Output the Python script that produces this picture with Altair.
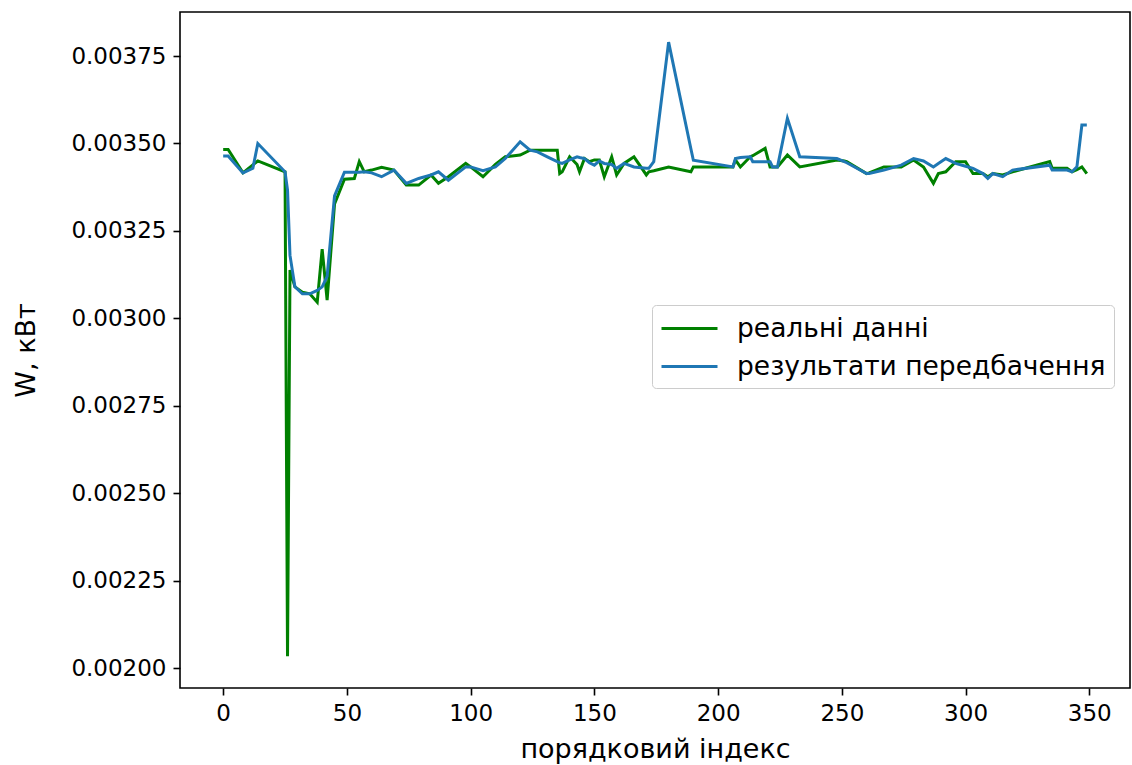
import altair as alt
import pandas as pd

# Sample index along the test set
index = [0, 2, 8, 12, 14, 25, 26, 27, 29, 32, 35, 38, 40, 42, 45, 49, 53, 55, 57, 60,
         64, 69, 74, 79, 84, 87, 91, 98, 100, 105, 110, 114, 120, 124, 127, 131, 135, 136,
         137, 140, 143, 144, 146, 148, 150, 152, 154, 157, 159, 162, 166, 171, 172, 174,
         180, 189, 190, 206, 207, 209, 213, 214, 219, 221, 222, 224, 228, 233, 248, 251,
         252, 260, 261, 267, 274, 279, 283, 287, 289, 292, 296, 300, 303, 307, 309, 311,
         315, 319, 334, 335, 341, 343, 345, 347, 349]

# Measured power, kW
real = [0.003483, 0.003483, 0.003416, 0.003439, 0.003450, 0.003419, 0.002034, 0.003138,
        0.003090, 0.003075, 0.003070, 0.003046, 0.003198, 0.003052, 0.003327, 0.003398,
        0.003400, 0.003448, 0.003419, 0.003424, 0.003432, 0.003424, 0.003381, 0.003381,
        0.003410, 0.003386, 0.003405, 0.003443, 0.003433, 0.003405, 0.003440, 0.003462,
        0.003467, 0.003481, 0.003481, 0.003481, 0.003481, 0.003414, 0.003419, 0.003462,
        0.003440, 0.003419, 0.003457, 0.003448, 0.003453, 0.003453, 0.003405, 0.003462,
        0.003410, 0.003443, 0.003462, 0.003410, 0.003419, 0.003422, 0.003433, 0.003419,
        0.003433, 0.003433, 0.003453, 0.003433, 0.003462, 0.003465, 0.003486, 0.003433,
        0.003433, 0.003433, 0.003467, 0.003433, 0.003453, 0.003450, 0.003448, 0.003414,
        0.003416, 0.003433, 0.003433, 0.003453, 0.003433, 0.003386, 0.003414, 0.003419,
        0.003448, 0.003448, 0.003414, 0.003414, 0.003405, 0.003414, 0.003410, 0.003419,
        0.003448, 0.003429, 0.003429, 0.003419, 0.003425, 0.003433, 0.003414]

# Model output, kW
pred = [0.003464, 0.003464, 0.003416, 0.003429, 0.003500, 0.003419, 0.003367, 0.003180,
        0.003090, 0.003070, 0.003070, 0.003080, 0.003090, 0.003120, 0.003350, 0.003418,
        0.003418, 0.003418, 0.003419, 0.003416, 0.003405, 0.003424, 0.003386, 0.003400,
        0.003410, 0.003419, 0.003395, 0.003433, 0.003433, 0.003422, 0.003433, 0.003457,
        0.003505, 0.003481, 0.003476, 0.003462, 0.003448, 0.003445, 0.003443, 0.003453,
        0.003462, 0.003460, 0.003457, 0.003445, 0.003438, 0.003450, 0.003443, 0.003440,
        0.003429, 0.003443, 0.003433, 0.003429, 0.003429, 0.003448, 0.003790, 0.003485,
        0.003452, 0.003433, 0.003457, 0.003460, 0.003462, 0.003448, 0.003448, 0.003448,
        0.003433, 0.003433, 0.003572, 0.003462, 0.003457, 0.003448, 0.003445, 0.003414,
        0.003414, 0.003424, 0.003438, 0.003457, 0.003450, 0.003433, 0.003443, 0.003457,
        0.003443, 0.003435, 0.003429, 0.003414, 0.003400, 0.003414, 0.003405, 0.003424,
        0.003438, 0.003424, 0.003424, 0.003419, 0.003433, 0.003553, 0.003553]

series_names = ["реальні данні", "результати передбачення"]
series_colors = ["green", "#1f77b4"]

y_ticks = [0.00200, 0.00225, 0.00250, 0.00275, 0.00300, 0.00325, 0.00350, 0.00375]
x_ticks = [0, 50, 100, 150, 200, 250, 300, 350]

real_df = pd.DataFrame({"i": index, "w": real, "s": series_names[0]})
pred_df = pd.DataFrame({"i": index, "w": pred, "s": series_names[1]})

x_enc = alt.X("i:Q", title="порядковий індекс",
              scale=alt.Scale(domain=[-17.45, 366.45], nice=False, zero=False),
              axis=alt.Axis(values=x_ticks, format="d"))
y_enc = alt.Y("w:Q", title="W, кВт",
              scale=alt.Scale(domain=[0.001943, 0.003876], nice=False, zero=False),
              axis=alt.Axis(values=y_ticks, format=".5f"))
color_enc = alt.Color("s:N", sort=series_names,
                      scale=alt.Scale(domain=series_names, range=series_colors),
                      legend=alt.Legend(title=None, orient="none", legendX=472, legendY=293,
                                        symbolType="M-1,0H3", symbolSize=784,
                                        symbolStrokeWidth=3, labelFontSize=26.5,
                                        labelFont="DejaVu Sans", labelColor="black",
                                        labelLimit=0, padding=8, rowPadding=9,
                                        labelOffset=46, strokeColor="#cccccc",
                                        fillColor="white", cornerRadius=4))

real_line = alt.Chart(real_df).mark_line(strokeWidth=3).encode(x=x_enc, y=y_enc, color=color_enc)
pred_line = alt.Chart(pred_df).mark_line(strokeWidth=3).encode(x=x_enc, y=y_enc, color=color_enc)

chart = (
    alt.layer(real_line, pred_line)
    .properties(width=950, height=676,
                autosize=alt.AutoSizeParams(type="none"),
                padding={"left": 180, "top": 12, "right": 2, "bottom": 77})
    .configure_view(stroke="black", strokeWidth=1.6)
    .configure_axis(labelFont="DejaVu Sans", labelFontSize=23, labelColor="black",
                    titleFont="DejaVu Sans", titleFontSize=27, titleFontWeight="normal",
                    titleColor="black", tickColor="black", tickSize=7, tickWidth=1.6,
                    labelPadding=7, domain=False, grid=False)
    .configure_axisX(titlePadding=11)
    .configure_axisY(titlePadding=30)
)

chart.save("out.html", embed_options={"renderer": "svg", "actions": False})
